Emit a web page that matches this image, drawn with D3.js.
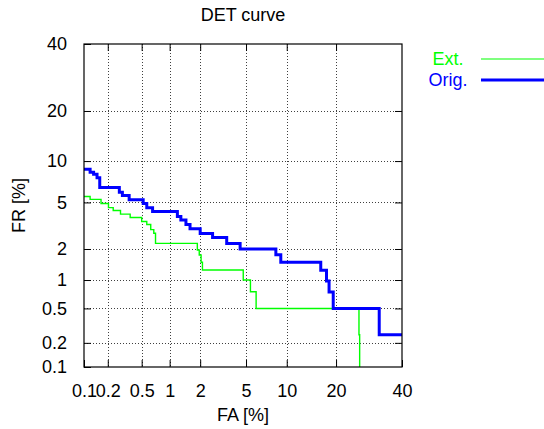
<!DOCTYPE html>
<html>
<head>
<meta charset="utf-8">
<script src="https://cdn.jsdelivr.net/npm/d3@7"></script>
<style>
  html, body { margin: 0; padding: 0; background: #fff; }
  svg { display: block; font-family: "Liberation Sans", Arial, Helvetica, sans-serif; }
</style>
</head>
<body>
<svg id="chart" width="544" height="429"></svg>
<script>
// DET curve: false alarm vs. false rejection rates (%), normal-deviate axes.
const tickValues = [0.1, 0.2, 0.5, 1, 2, 5, 10, 20, 40];
const tickLabels = ["0.1", "0.2", "0.5", "1", "2", "5", "10", "20", "40"];

// Extended system: [FA %, FR %] operating points (step after)
const extFA = [0.1, 0.12, 0.165, 0.204, 0.233, 0.285, 0.37, 0.50, 0.57, 0.63, 0.68, 0.71, 1.88, 1.96, 2.04, 2.1, 4.75, 5.42, 6.0, 26.2, 26.4];
const extFR = [5.56, 5.28, 4.9, 4.55, 4.31, 4.03, 3.78, 3.5, 3.3, 2.98, 2.77, 2.25, 1.96, 1.76, 1.5, 1.26, 1.0, 0.757, 0.5, 0.25, 0.01];

// Original system
const origFA = [0.1, 0.12, 0.133, 0.147, 0.159, 0.276, 0.30, 0.36, 0.52, 0.57, 0.66, 1.2, 1.3, 1.46, 1.6, 2.0, 2.6, 3.46, 4.48, 8.4, 9.1, 16.4, 17.7, 18.3, 19.3, 32.4, 40];
const origFR = [8.8, 8.4, 8.1, 7.65, 6.5, 6.0, 5.66, 5.24, 4.9, 4.53, 4.24, 3.85, 3.6, 3.3, 3.04, 2.76, 2.54, 2.25, 2.0, 1.77, 1.5, 1.25, 0.98, 0.75, 0.5, 0.25, 0.25];

const seriesNames = ["Ext.", "Orig."];
const seriesColors = ["#00ff00", "#0000ff"];
const seriesWidths = [1.4, 3];

// Inverse standard normal CDF (Acklam's rational approximation)
function probit(p) {
  const a = [-3.969683028665376e+01, 2.209460984245205e+02, -2.759285104469687e+02, 1.383577518672690e+02, -3.066479806614716e+01, 2.506628277459239e+00];
  const b = [-5.447609879822406e+01, 1.615858368580409e+02, -1.556989798598866e+02, 6.680131188771972e+01, -1.328068155288572e+01];
  const c = [-7.784894002430293e-03, -3.223964580411365e-01, -2.400758277161838e+00, -2.549732539343734e+00, 4.374664141464968e+00, 2.938163982698783e+00];
  const d = [7.784695709041462e-03, 3.224671290700398e-01, 2.445134137142996e+00, 3.754408661907416e+00];
  const pl = 0.02425;
  let q, r;
  if (p < pl) {
    q = Math.sqrt(-2 * Math.log(p));
    return (((((c[0]*q+c[1])*q+c[2])*q+c[3])*q+c[4])*q+c[5]) / ((((d[0]*q+d[1])*q+d[2])*q+d[3])*q+1);
  } else if (p <= 1 - pl) {
    q = p - 0.5; r = q * q;
    return (((((a[0]*r+a[1])*r+a[2])*r+a[3])*r+a[4])*r+a[5])*q / (((((b[0]*r+b[1])*r+b[2])*r+b[3])*r+b[4])*r+1);
  } else {
    q = Math.sqrt(-2 * Math.log(1 - p));
    return -(((((c[0]*q+c[1])*q+c[2])*q+c[3])*q+c[4])*q+c[5]) / ((((d[0]*q+d[1])*q+d[2])*q+d[3])*q+1);
  }
}

// A percent -> pixel scale on a normal-deviate axis, usable by d3.axis
function scaleProbit(domainPct, range) {
  const lin = d3.scaleLinear()
    .domain(domainPct.map(v => probit(v / 100)))
    .range(range);
  function s(v) { return lin(probit(v / 100)); }
  s.domain = () => domainPct.slice();
  s.range = () => lin.range();
  s.copy = () => scaleProbit(domainPct, lin.range());
  return s;
}

const margin = { left: 84, right: 142, top: 44, bottom: 62 };
const W = 544, H = 429;
const x = scaleProbit([0.1, 40], [margin.left, W - margin.right]);
const y = scaleProbit([0.1, 40], [H - margin.bottom, margin.top]);
const [x0, x1] = x.range();
const [y0, y1] = y.range();

const svg = d3.select("#chart");
const fontSize = 18;

// Grid
const gridVals = tickValues.slice(1, -1);
const grid = svg.append("g")
  .attr("stroke", "#000")
  .attr("stroke-width", 1)
  .attr("stroke-dasharray", "1,2")
  .attr("opacity", 0.75);
grid.selectAll("line.v").data(gridVals).join("line")
  .attr("x1", d => Math.round(x(d)) + 0.5).attr("x2", d => Math.round(x(d)) + 0.5)
  .attr("y1", y1).attr("y2", y0);
grid.selectAll("line.h").data(gridVals).join("line")
  .attr("y1", d => Math.round(y(d)) + 0.5).attr("y2", d => Math.round(y(d)) + 0.5)
  .attr("x1", x0).attr("x2", x1);

// Axes with inward ticks, mirrored on top/right
const fmt = d => tickLabels[tickValues.indexOf(d)];
function styleAxis(g) {
  g.select(".domain").remove();
  g.selectAll(".tick line").attr("stroke", "#000").attr("stroke-width", 1);
  g.selectAll("text").attr("font-size", fontSize).attr("fill", "#000")
    .attr("font-family", "'Liberation Sans', Arial, sans-serif");
}
svg.append("g").attr("transform", `translate(0,${y0})`)
  .call(d3.axisBottom(x).tickValues(tickValues).tickFormat(fmt).tickSizeInner(-7).tickSizeOuter(0).tickPadding(17))
  .call(styleAxis);
svg.append("g").attr("transform", `translate(0,${y1})`)
  .call(d3.axisTop(x).tickValues(gridVals).tickFormat("").tickSizeInner(-7).tickSizeOuter(0))
  .call(styleAxis);
svg.append("g").attr("transform", `translate(${x0},0)`)
  .call(d3.axisLeft(y).tickValues(tickValues).tickFormat(fmt).tickSizeInner(-7).tickSizeOuter(0).tickPadding(17))
  .call(styleAxis);
svg.append("g").attr("transform", `translate(${x1},0)`)
  .call(d3.axisRight(y).tickValues(gridVals).tickFormat("").tickSizeInner(-7).tickSizeOuter(0))
  .call(styleAxis);

// Curves, clipped to the plot area
svg.append("clipPath").attr("id", "plotClip")
  .append("rect").attr("x", x0).attr("y", y1).attr("width", x1 - x0).attr("height", y0 - y1);

const line = d3.line()
  .x(d => x(d[0]))
  .y(d => y(d[1]))
  .curve(d3.curveStepAfter);

const series = [
  d3.zip(extFA, extFR),
  d3.zip(origFA, origFR)
];

const plot = svg.append("g").attr("clip-path", "url(#plotClip)");
plot.selectAll("path.curve").data(series).join("path")
  .attr("class", "curve")
  .attr("fill", "none")
  .attr("stroke", (d, i) => seriesColors[i])
  .attr("stroke-width", (d, i) => seriesWidths[i])
  .attr("d", line);

// Border
svg.append("rect")
  .attr("x", x0).attr("y", y1)
  .attr("width", x1 - x0).attr("height", y0 - y1)
  .attr("fill", "none").attr("stroke", "#000").attr("stroke-width", 1.2);

// Title and axis labels
svg.append("text").attr("x", (x0 + x1) / 2).attr("y", 21)
  .attr("text-anchor", "middle").attr("font-size", fontSize).text("DET curve");
svg.append("text").attr("x", (x0 + x1) / 2).attr("y", 421)
  .attr("text-anchor", "middle").attr("font-size", fontSize).text("FA [%]");
svg.append("text")
  .attr("transform", `translate(25,${(y0 + y1) / 2}) rotate(-90)`)
  .attr("text-anchor", "middle").attr("font-size", fontSize).text("FR [%]");

// Legend
const legend = svg.append("g");
seriesNames.forEach((name, i) => {
  const ly = 59 + i * 21;
  legend.append("text").attr("x", 448).attr("y", ly).attr("dy", "0.35em")
    .attr("text-anchor", "middle").attr("font-size", fontSize)
    .attr("fill", seriesColors[i]).text(name);
  legend.append("line").attr("x1", 481).attr("x2", 544)
    .attr("y1", ly).attr("y2", ly)
    .attr("stroke", i === 0 ? "#7fff7f" : seriesColors[i])
    .attr("stroke-width", i === 0 ? 2 : 3);
});
</script>
</body>
</html>
